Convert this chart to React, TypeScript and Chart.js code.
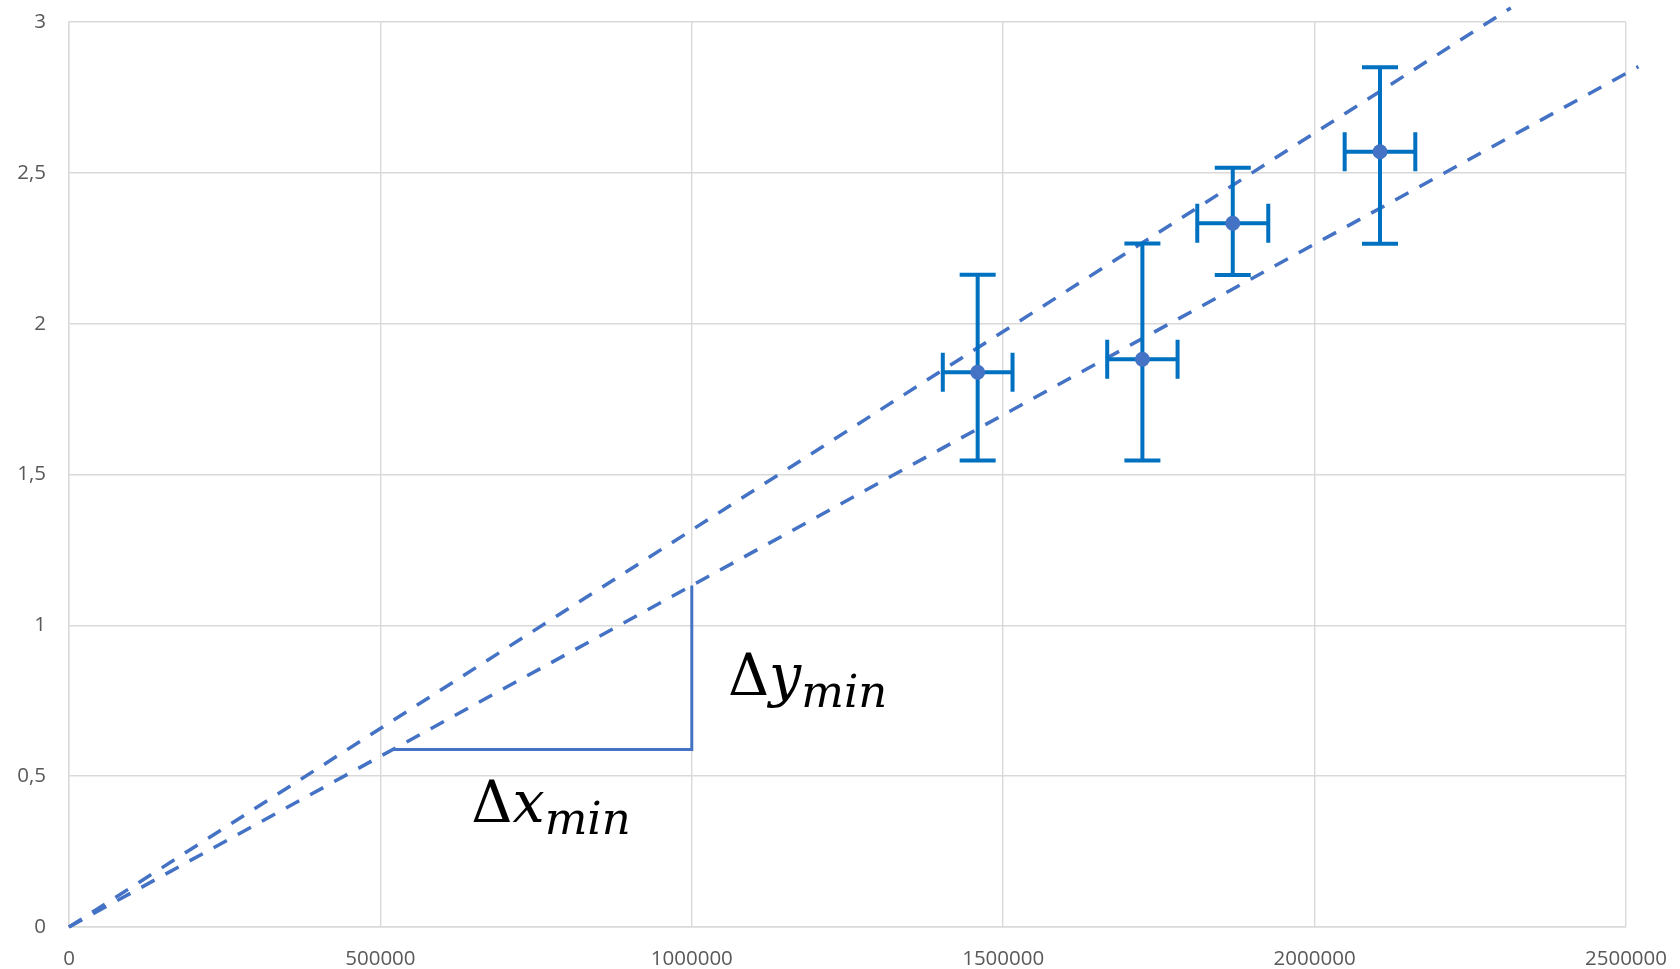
import { useEffect, useRef } from "react";
import { Chart, registerables } from "chart.js";

Chart.register(...registerables);

// Measured points with error bars
const xValues = [1459000, 1723500, 1868600, 2105000];
const yValues = [1.839, 1.882, 2.333, 2.57];
const xErr = [56000, 56500, 57000, 56700];
const yErrPlus = [0.323, 0.384, 0.184, 0.28];
const yErrMinus = [0.293, 0.336, 0.172, 0.305];

// Max / min slope lines through the origin
const slopeMax = 1.316e-6;
const slopeMin = 1.1318e-6;
const lineEndMax = 2315000;
const lineEndMin = 2520000;

// Slope triangle on the min line
const triangleX = [520000, 1000000];

// Axis ranges
const xMin = 0;
const xMax = 2500000;
const xStep = 500000;
const yMin = 0;
const yMax = 3;
const yStep = 0.5;

// Math labels (anchor in data units)
const mathLabels = [
  { x: 646000, y: 0.349, variable: "x", sub: "min" },
  { x: 1058000, y: 0.769, variable: "y", sub: "min" },
];

const BLUE_LINE = "#4472C4";
const BLUE_BAR = "#0070C0";

const errorBarPlugin = {
  id: "errorBars",
  beforeDatasetDraw(chart: any, args: any) {
    if (args.index !== 0) return;
    const ctx = chart.ctx;
    const xs = chart.scales.x;
    const ys = chart.scales.y;
    ctx.save();
    ctx.strokeStyle = BLUE_BAR;
    ctx.lineWidth = 4;
    ctx.lineCap = "butt";
    const capY = 18;
    const capX = 19.5;
    for (let i = 0; i < xValues.length; i++) {
      const px = xs.getPixelForValue(xValues[i]);
      const py = ys.getPixelForValue(yValues[i]);
      const top = ys.getPixelForValue(yValues[i] + yErrPlus[i]);
      const bot = ys.getPixelForValue(yValues[i] - yErrMinus[i]);
      const left = xs.getPixelForValue(xValues[i] - xErr[i]);
      const right = xs.getPixelForValue(xValues[i] + xErr[i]);
      ctx.beginPath();
      ctx.moveTo(px, top);
      ctx.lineTo(px, bot);
      ctx.moveTo(px - capY, top);
      ctx.lineTo(px + capY, top);
      ctx.moveTo(px - capY, bot);
      ctx.lineTo(px + capY, bot);
      ctx.moveTo(left, py);
      ctx.lineTo(right, py);
      ctx.moveTo(left, py - capX);
      ctx.lineTo(left, py + capX);
      ctx.moveTo(right, py - capX);
      ctx.lineTo(right, py + capX);
      ctx.stroke();
    }
    ctx.restore();
  },
};

const mathLabelPlugin = {
  id: "mathLabels",
  afterDatasetsDraw(chart: any) {
    const ctx = chart.ctx;
    const xs = chart.scales.x;
    const ys = chart.scales.y;
    ctx.save();
    ctx.fillStyle = "#000000";
    ctx.textBaseline = "alphabetic";
    ctx.textAlign = "left";
    for (const lab of mathLabels) {
      let px = xs.getPixelForValue(lab.x);
      const py = ys.getPixelForValue(lab.y);
      ctx.font = '57px "DejaVu Serif"';
      ctx.fillText("Δ", px, py);
      px += ctx.measureText("Δ").width;
      ctx.font = 'italic 57px "DejaVu Serif"';
      ctx.fillText(lab.variable, px, py);
      px += ctx.measureText(lab.variable).width;
      ctx.font = 'italic 45px "DejaVu Serif"';
      ctx.fillText(lab.sub, px, py + 12);
    }
    ctx.restore();
  },
};

export default function App() {
  const canvasRef = useRef<HTMLCanvasElement | null>(null);

  useEffect(() => {
    if (!canvasRef.current) return;
    const pointData = xValues.map((x, i) => ({ x, y: yValues[i] }));
    const maxLine = [
      { x: 0, y: 0 },
      { x: lineEndMax, y: slopeMax * lineEndMax },
    ];
    const minLine = [
      { x: 0, y: 0 },
      { x: lineEndMin, y: slopeMin * lineEndMin },
    ];
    const triangle = [
      { x: triangleX[0], y: slopeMin * triangleX[0] },
      { x: triangleX[1], y: slopeMin * triangleX[0] },
      { x: triangleX[1], y: slopeMin * triangleX[1] },
    ];
    const dashed = {
      showLine: true,
      pointRadius: 0,
      borderColor: BLUE_LINE,
      borderWidth: 3.5,
      borderDash: [15, 12.5],
      clip: false as any,
      fill: false,
    };
    const chart = new Chart(canvasRef.current, {
      type: "scatter",
      data: {
        datasets: [
          {
            data: pointData,
            pointRadius: 7.5,
            pointBackgroundColor: BLUE_LINE,
            pointBorderWidth: 0,
            order: 0,
          },
          { data: maxLine, ...dashed, order: 2 },
          { data: minLine, ...dashed, order: 3 },
          {
            data: triangle,
            showLine: true,
            pointRadius: 0,
            borderColor: BLUE_LINE,
            borderWidth: 3,
            order: 4,
          },
        ],
      },
      options: {
        responsive: false,
        animation: false,
        events: [],
        layout: { padding: { left: 0, top: 22, right: 54, bottom: 0 } },
        plugins: { legend: { display: false }, tooltip: { enabled: false } },
        scales: {
          x: {
            type: "linear",
            min: xMin,
            max: xMax,
            afterFit: (s: any) => {
              s.height = 42;
            },
            ticks: {
              stepSize: xStep,
              padding: 0,
              color: "#595959",
              font: { family: "'Open Sans', sans-serif", size: 20.5 },
              callback: (v: any) => String(v),
            },
            grid: {
              color: "#D9D9D9",
              lineWidth: 1.4,
              drawTicks: true,
              tickLength: 20,
              tickColor: "rgba(0,0,0,0)",
            },
            border: { color: "#D9D9D9", width: 1.4 },
          },
          y: {
            type: "linear",
            min: yMin,
            max: yMax,
            afterFit: (s: any) => {
              s.width = 69;
            },
            ticks: {
              stepSize: yStep,
              padding: 0,
              color: "#595959",
              font: { family: "'Open Sans', sans-serif", size: 20.5 },
              callback: (v: any) => String(v).replace(".", ","),
            },
            grid: {
              color: "#D9D9D9",
              lineWidth: 1.4,
              drawTicks: true,
              tickLength: 23,
              tickColor: "rgba(0,0,0,0)",
            },
            border: { color: "#D9D9D9", width: 1.4 },
          },
        },
      },
      plugins: [errorBarPlugin, mathLabelPlugin],
    });
    return () => chart.destroy();
  }, []);

  return (
    <div style={{ position: "fixed", left: 0, top: 0, width: 1680, height: 969, background: "#fff" }}>
      <canvas ref={canvasRef} width={1680} height={969} style={{ display: "block" }} />
    </div>
  );
}
